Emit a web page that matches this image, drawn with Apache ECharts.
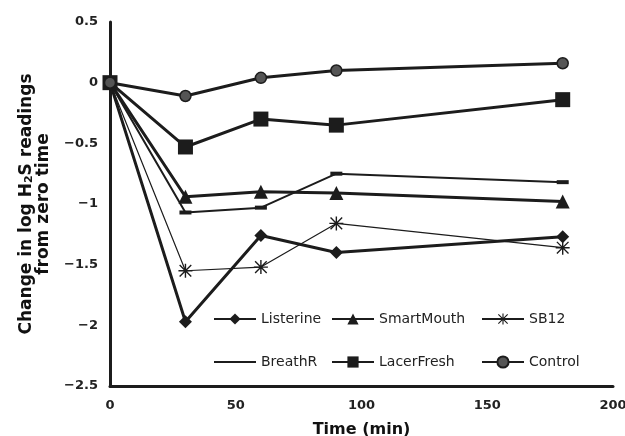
<!DOCTYPE html>
<html><head><meta charset="utf-8">
<script src="https://cdn.jsdelivr.net/npm/echarts@6/dist/echarts.min.js"></script>
<style>html,body{margin:0;padding:0;background:#fff}#c{width:625px;height:436px}</style>
</head><body><div id="c"></div>
<script>
const times = [0, 30, 60, 90, 180];
const listerine = [0, -1.97, -1.26, -1.40, -1.27];
const smartMouth = [0, -0.94, -0.90, -0.91, -0.98];
const sb12 = [0, -1.55, -1.52, -1.16, -1.36];
const breathR = [0, -1.07, -1.03, -0.75, -0.82];
const lacerFresh = [0, -0.53, -0.30, -0.35, -0.14];
const control = [0, -0.11, 0.04, 0.10, 0.16];
const xTicks = [0, 50, 100, 150, 200];
const yTicks = [0.5, 0, -0.5, -1, -1.5, -2, -2.5];

const INK = '#1c1c1c';
const FONT = 'DejaVu Sans, Liberation Sans, Arial';
const star = 'path://M9,0L11,0L11,20L9,20Z M0,9L20,9L20,11L0,11Z M1,2.4L2.4,1L19,17.6L17.6,19Z M17.6,1L19,2.4L2.4,19L1,17.6Z';
const pairs = a => times.map((t, i) => [t, a[i]]);
function ser(name, data, symbol, size, width, extra) {
  return Object.assign({
    name, type: 'line', data: pairs(data), symbol, symbolSize: size,
    lineStyle: { color: INK, width },
    itemStyle: { color: INK },
    emphasis: { disabled: true }, animation: false
  }, extra || {});
}
const series = [
  ser('Listerine', listerine, 'diamond', 13, 3),
  ser('SmartMouth', smartMouth, 'triangle', 14, 3),
  ser('SB12', sb12, star, 14, 1.2),
  ser('BreathR', breathR, 'rect', [12, 4], 2),
  ser('LacerFresh', lacerFresh, 'rect', 15, 3),
  ser('Control', control, 'circle', 11, 3, { itemStyle: { color: '#555', borderColor: INK, borderWidth: 1.5 } })
];
const legendBase = {
  orient: 'vertical', top: 307, itemWidth: 42, itemHeight: 14, itemGap: 29,
  textStyle: { fontFamily: FONT, fontSize: 14, color: '#222' },
  selectedMode: false
};
const chart = echarts.init(document.getElementById('c'), null, { renderer: 'canvas' });
chart.setOption({
  backgroundColor: '#fff',
  animation: false,
  grid: { left: 110, right: 12, top: 22, bottom: 50, outerBoundsMode: 'none', containLabel: false },
  legend: [
    Object.assign({}, legendBase, { left: 208, data: ['Listerine', { name: 'BreathR', itemStyle: { opacity: 0 } }] }),
    Object.assign({}, legendBase, { left: 326, data: ['SmartMouth', 'LacerFresh'] }),
    Object.assign({}, legendBase, { left: 476, data: ['SB12', 'Control'] })
  ],
  xAxis: {
    type: 'value', min: xTicks[0], max: xTicks[xTicks.length - 1], interval: 50,
    name: 'Time (min)', nameLocation: 'middle', nameGap: 36,
    nameTextStyle: { fontFamily: FONT, fontWeight: 'bold', fontSize: 16, color: '#111' },
    axisLine: { onZero: false, lineStyle: { color: INK, width: 3 } },
    axisTick: { show: false }, splitLine: { show: false },
    axisLabel: { margin: 13, fontFamily: FONT, fontSize: 13, fontWeight: 'bold', color: '#222' }
  },
  yAxis: {
    type: 'value', min: yTicks[yTicks.length - 1], max: yTicks[0], interval: 0.5,
    name: 'Change in log H{sub|2}S readings\nfrom zero time', nameLocation: 'middle', nameGap: 58, nameRotate: 90,
    nameTextStyle: {
      fontFamily: FONT, fontWeight: 'bold', fontSize: 17, color: '#111', lineHeight: 17, align: 'center',
      rich: { sub: { fontFamily: FONT, fontWeight: 'bold', fontSize: 11, color: '#111', verticalAlign: 'bottom', padding: [8, 0, 0, 0] } }
    },
    axisLine: { show: true, onZero: false, lineStyle: { color: INK, width: 3 } },
    axisTick: { show: false }, splitLine: { show: false },
    axisLabel: {
      margin: 12, fontFamily: FONT, fontSize: 13, fontWeight: 'bold', color: '#222',
      formatter: v => (v < 0 ? '\u2212' + Math.abs(v) : String(v))
    }
  },
  series
});
</script></body></html>
